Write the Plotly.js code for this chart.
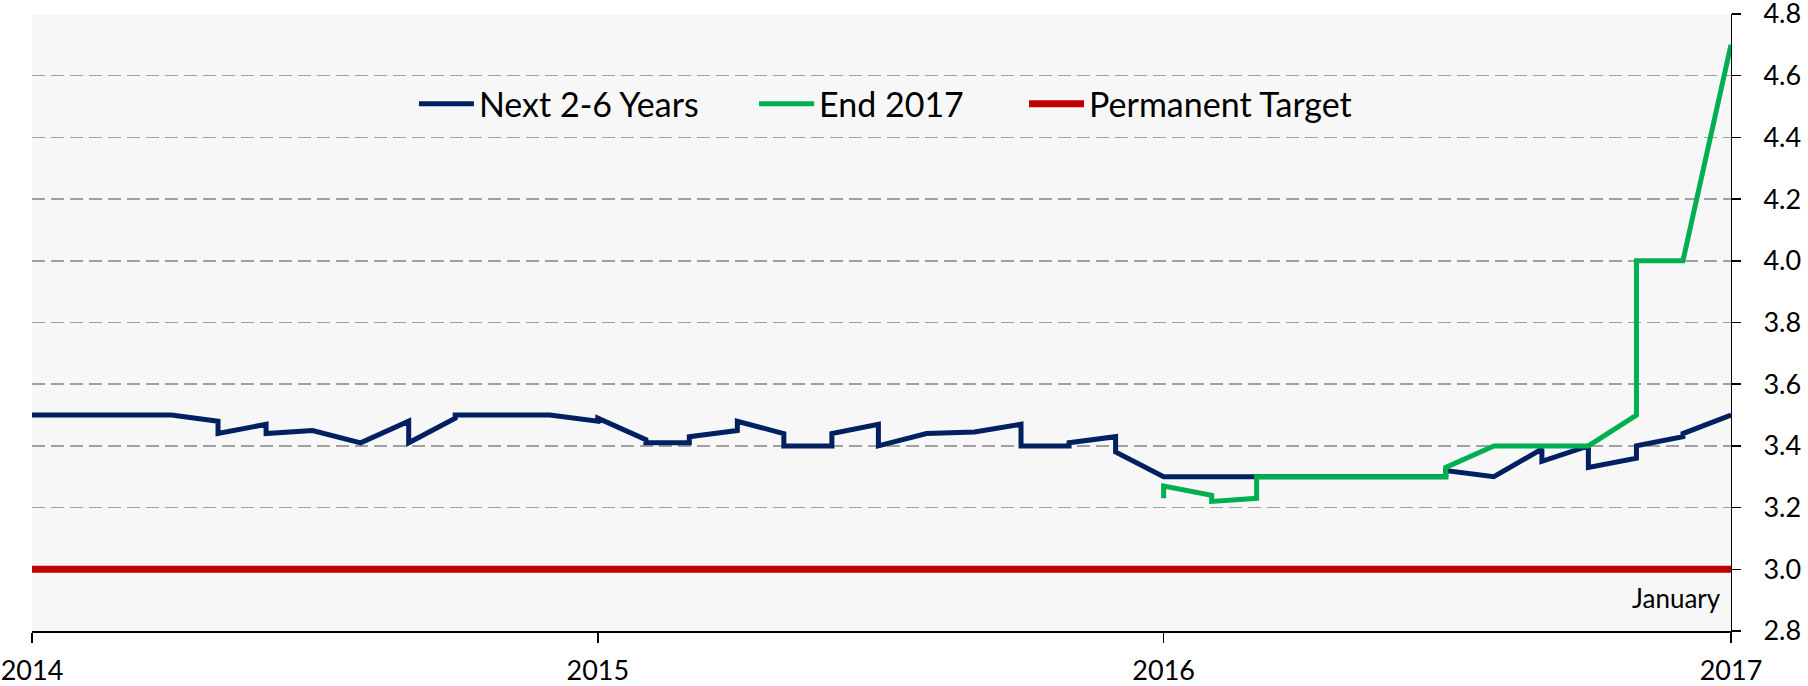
<!DOCTYPE html>
<html>
<head>
<meta charset="utf-8">
<script src="https://cdn.plot.ly/plotly-3.0.1.min.js"></script>
<style>html,body{margin:0;padding:0;background:#fff;}#chart{width:1808px;height:686px;}</style>
</head>
<body>
<div id="chart"></div>
<script>
// Monthly readings; repeated dates mark a revision step within the same month.
const blueDates = [
  '2014-01-01','2014-02-01','2014-03-01','2014-04-01','2014-05-01','2014-05-01',
  '2014-06-01','2014-06-01','2014-07-01','2014-08-01','2014-09-01','2014-09-01',
  '2014-10-01','2014-10-01','2014-11-01','2014-12-01','2015-01-01','2015-01-01',
  '2015-02-01','2015-02-01','2015-03-01','2015-03-01','2015-04-01','2015-04-01',
  '2015-05-01','2015-05-01','2015-06-01','2015-06-01','2015-07-01','2015-07-01',
  '2015-08-01','2015-09-01','2015-10-01','2015-10-01','2015-11-01','2015-11-01',
  '2015-12-01','2015-12-01','2016-01-01','2016-02-01','2016-03-01','2016-04-01',
  '2016-05-01','2016-06-01','2016-07-01','2016-07-01','2016-08-01','2016-09-01',
  '2016-09-01','2016-10-01','2016-10-01','2016-11-01','2016-11-01','2016-12-01',
  '2016-12-01','2017-01-01'
];
const blueValues = [
  3.50,3.50,3.50,3.50,3.48,3.44,
  3.47,3.44,3.45,3.41,3.48,3.41,
  3.49,3.50,3.50,3.50,3.48,3.49,
  3.42,3.41,3.41,3.43,3.45,3.48,
  3.44,3.40,3.40,3.44,3.47,3.40,
  3.44,3.445,3.47,3.40,3.40,3.41,
  3.43,3.38,3.30,3.30,3.30,3.30,
  3.30,3.30,3.30,3.32,3.30,3.39,
  3.35,3.40,3.33,3.36,3.40,3.43,
  3.44,3.50
];
const greenDates = [
  '2016-01-01','2016-01-01','2016-02-01','2016-02-01','2016-03-01','2016-03-01',
  '2016-04-01','2016-05-01','2016-06-01','2016-07-01','2016-07-01','2016-08-01',
  '2016-09-01','2016-10-01','2016-11-01','2016-11-01','2016-12-01','2017-01-01'
];
const greenValues = [
  3.23,3.27,3.24,3.22,3.23,3.30,
  3.30,3.30,3.30,3.30,3.33,3.40,
  3.40,3.40,3.50,4.00,4.00,4.70
];
const targetDates = ['2014-01-01','2017-01-01'];
const targetValues = [3.0, 3.0];

const seriesNames = ['Next 2-6 Years','End 2017','Permanent Target'];
const yearTicks = ['2014-01-01','2015-01-01','2016-01-01','2017-01-01'];
const yearLabels = ['2014','2015','2016','2017'];
const yTicks = [2.8,3.0,3.2,3.4,3.6,3.8,4.0,4.2,4.4,4.6,4.8];
const noteText = 'January';

const FONT = 'Lato, "Open Sans", sans-serif';

const traces = [
  {x: blueDates, y: blueValues, name: seriesNames[0], type: 'scatter', mode: 'lines',
   line: {color: '#002060', width: 5}, legend: 'legend'},
  {x: greenDates, y: greenValues, name: seriesNames[1], type: 'scatter', mode: 'lines',
   line: {color: '#00B050', width: 5}, legend: 'legend2'},
  {x: targetDates, y: targetValues, name: seriesNames[2], type: 'scatter', mode: 'lines',
   line: {color: '#C00000', width: 7}, legend: 'legend3'}
];

function legendAt(xp) {
  return {
    orientation: 'h', xref: 'paper', yref: 'paper',
    x: xp, y: 0.854, xanchor: 'left', yanchor: 'middle',
    bgcolor: 'rgba(0,0,0,0)', borderwidth: 0,
    font: {family: FONT, size: 34, color: '#000'},
    itemwidth: 55
  };
}

const layout = {
  width: 1808, height: 686,
  margin: {l: 32, r: 77, t: 14, b: 55},
  paper_bgcolor: '#ffffff',
  plot_bgcolor: '#F7F7F7',
  font: {family: FONT, color: '#000', size: 27},
  showlegend: true,
  legend: legendAt(0.2248),
  legend2: legendAt(0.4250),
  legend3: legendAt(0.5839),
  xaxis: {
    type: 'date', range: ['2014-01-01','2017-01-01'],
    tickmode: 'array', tickvals: yearTicks, ticktext: yearLabels,
    showgrid: false, zeroline: false,
    showline: true, linecolor: '#000', linewidth: 1.5,
    ticks: 'outside', ticklen: 10, tickwidth: 1.5, tickcolor: '#000',
    ticklabelstandoff: 5, ticklabeloverflow: 'allow',
    tickfont: {family: FONT, size: 27, color: '#000'},
    fixedrange: true
  },
  yaxis: {
    side: 'right', range: [2.8, 4.8],
    tickmode: 'array', tickvals: yTicks, tickformat: '.1f',
    showgrid: true, gridcolor: '#A0A0A0', gridwidth: 1.5, griddash: '13px,6px',
    zeroline: false,
    showline: true, linecolor: '#000', linewidth: 1,
    ticks: 'outside', ticklen: 9, tickwidth: 1.5, tickcolor: '#000',
    ticklabelstandoff: 17, ticklabeloverflow: 'allow',
    tickfont: {family: FONT, size: 27, color: '#000'},
    fixedrange: true
  },
  annotations: [{
    text: noteText, xref: 'paper', yref: 'paper', x: 1, y: 0.054,
    xanchor: 'right', yanchor: 'middle', xshift: -8, showarrow: false,
    font: {family: FONT, size: 26, color: '#000'}
  }]
};

Plotly.newPlot('chart', traces, layout, {staticPlot: true, displayModeBar: false});
</script>
</body>
</html>
